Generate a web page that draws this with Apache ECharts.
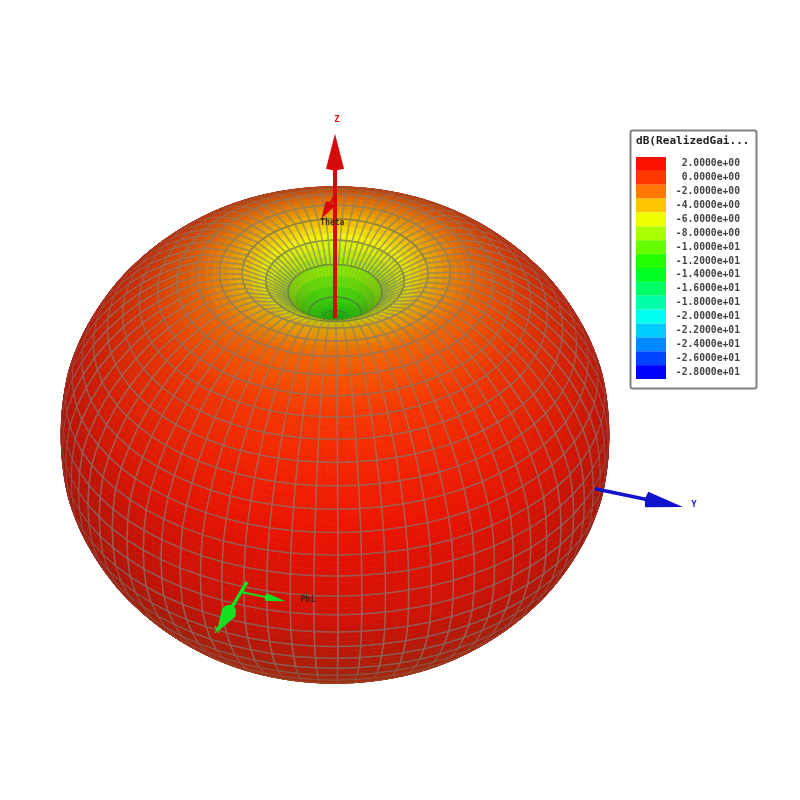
<!DOCTYPE html>
<html><head><meta charset="utf-8">
<style>html,body{margin:0;padding:0;background:#fff}#c{width:800px;height:800px;filter:blur(0.5px)}</style>
<script src="https://cdn.jsdelivr.net/npm/echarts@6/dist/echarts.min.js"></script>
</head><body><div id="c"></div>
<script>
// ---- data ----
const legendTitle = 'dB(RealizedGai...';
const tickValues = [2,0,-2,-4,-6,-8,-10,-12,-14,-16,-18,-20,-22,-24,-26,-28];
const tickLabels = ['2.0000e+00','0.0000e+00','-2.0000e+00','-4.0000e+00','-6.0000e+00','-8.0000e+00','-1.0000e+01','-1.2000e+01','-1.4000e+01','-1.6000e+01','-1.8000e+01','-2.0000e+01','-2.2000e+01','-2.4000e+01','-2.6000e+01','-2.8000e+01'];
const thetaStep = 5, phiStep = 5;
// realized gain (dB) at theta = 0,5,...,180 deg
const gainByTheta = [-12.2,-12.1,-11.2,-8,-5.8,-3.9,-2.7,-1.6,-1,-0.5,0,0.4,0.8,1.2,1.5,1.8,2,2,2,2,2,1.8,1.5,1.2,0.8,0.4,0,-0.5,-1,-1.6,-2.5,-3.5,-4.5,-6,-7.5,-9,-10];
const radialFloor = -28;
const colorValues = [2.5,0,-2,-5.5,-13,-20.5,-28];
const colorRGB = [[255,8,0],[255,55,0],[255,120,0],[255,255,0],[0,255,0],[0,255,255],[0,0,255]];
// axis triads: origin and vector in plot units
const arrowNames = ['Z','Y','X','Phi','Theta'];
const arrowOrigins = [[0,0,15.8],[0,30.2,0],[29,0,0],[31,0,0],[0,0,32.4]];
const arrowVectors = [[0,0,25],[0,10.2,0],[10,0,0],[0,5.2,0],[4.5,0,0]];
const viewAzimuth = 19.4, viewElevation = 36;

// ---- styling ----
const arrowStyle = {
  Z:{color:'#d60a0a',w:4,hl:35,hw:9,label:[2,-14],tc:'#e01010',font:'bold 9px "DejaVu Sans Mono"'},
  Y:{color:'#1212cc',w:3.5,hl:37,hw:8,label:[11,-2],tc:'#1a1acc',font:'bold 9px "DejaVu Sans Mono"'},
  X:{color:'#12e022',w:3.5,hl:24,hw:8,blob:7,label:[0,-1],tc:'#12e022',font:'bold 8px "DejaVu Sans Mono"'},
  Phi:{color:'#12e022',w:2,hl:20,hw:4,label:[22,-1],tc:'#3a1a10',font:'bold 8px "DejaVu Sans Mono"'},
  Theta:{color:'#d60a0a',w:2.5,hl:17,hw:5,label:[11,4],tc:'#3a2a10',font:'bold 8px "DejaVu Sans Mono"'}
};
const d2r = Math.PI/180;
const ca = Math.cos(viewAzimuth*d2r), sa = Math.sin(viewAzimuth*d2r), ce = Math.cos(viewElevation*d2r), se = Math.sin(viewElevation*d2r);
const V = [ca*ce, sa*ce, se];
const dot = (a,b)=>a[0]*b[0]+a[1]*b[1]+a[2]*b[2];
const view = p => [-p[0]*sa+p[1]*ca, p[2]*ce-(p[0]*ca+p[1]*sa)*se];
function gainAt(t){
  const f = Math.max(0,Math.min(gainByTheta.length-1.0001,t/thetaStep)), i = Math.floor(f), k = f-i;
  return gainByTheta[i]*(1-k)+gainByTheta[i+1]*k;
}
function point(t,p){
  const r = gainAt(t)-radialFloor, st = Math.sin(t*d2r);
  return [r*st*Math.cos(p*d2r), r*st*Math.sin(p*d2r), r*Math.cos(t*d2r)];
}
function normal(t,p){
  const tt = Math.max(0.5,Math.min(179.5,t));
  const a = point(tt+3,p), b = point(tt-3,p), c = point(tt,p+3), d = point(tt,p-3);
  const u = [a[0]-b[0],a[1]-b[1],a[2]-b[2]], v = [c[0]-d[0],c[1]-d[1],c[2]-d[2]];
  const n = [u[1]*v[2]-u[2]*v[1],u[2]*v[0]-u[0]*v[2],u[0]*v[1]-u[1]*v[0]];
  const l = Math.hypot(n[0],n[1],n[2])||1; return [n[0]/l,n[1]/l,n[2]/l];
}
function gainRGB(g){
  const n = colorValues.length;
  if(g>=colorValues[0]) return colorRGB[0];
  for(let i=1;i<n;i++) if(g>=colorValues[i]){
    const k=(g-colorValues[i])/(colorValues[i-1]-colorValues[i]);
    return colorRGB[i].map((c,m)=>c+(colorRGB[i-1][m]-c)*k);
  }
  return colorRGB[n-1];
}
const rgbStr = c => 'rgb('+c.map(Math.round).join(',')+')';
const L = (()=>{const l=[V[0]*0.9,V[1]*0.9+0.05,V[2]+0.35];const m=Math.hypot(...l);return l.map(x=>x/m);})();
function shade(t,p){
  const n = normal(t,p), d = Math.max(0,dot(n,L)), base = gainRGB(gainAt(t));
  const occlusion = t<20 ? 0.72+0.28*t/20 : 1;
  const k = (0.6+0.36*d)*occlusion;
  return rgbStr(base.map(c=>c*k+(1-k)*25));
}
// cells sorted far-to-near
const cells = [];
for(let i=0;i<(gainByTheta.length-1);i++) for(let j=0;j<360/phiStep;j++){
  const t=(i+.5)*thetaStep, p=(j+.5)*phiStep;
  cells.push([i,j,dot(point(t,p),V)]);
}
cells.sort((a,b)=>a[2]-b[2]);
const SUBT=3, SUBP=2;
function renderCell(params,api){
  const i=api.value(0), j=api.value(1), ch=[];
  const t0=i*thetaStep, p0=j*phiStep, px=q=>api.coord(view(q));
  const facing=dot(normal(t0+thetaStep/2,p0+phiStep/2),V);
  if(facing<-0.12) return null;
  for(let a=0;a<SUBT;a++) for(let b=0;b<SUBP;b++){
    const t1=t0+thetaStep*a/SUBT, t2=t0+thetaStep*(a+1)/SUBT, p1=p0+phiStep*b/SUBP, p2=p0+phiStep*(b+1)/SUBP;
    const col=shade((t1+t2)/2,(p1+p2)/2);
    ch.push({type:'polygon',shape:{points:[px(point(t1,p1)),px(point(t1,p2)),px(point(t2,p2)),px(point(t2,p1))]},style:{fill:col,stroke:col,lineWidth:0.7},silent:true});
  }
  const t1=t0+thetaStep, p1=p0+phiStep;
  const A=px(point(t0,p0)),B=px(point(t0,p1)),C=px(point(t1,p1)),D=px(point(t1,p0));
  const f=Math.min(1,Math.max(0,facing)*2.5);
  const w=0.7+0.8*f, alpha=(0.25+0.37*f).toFixed(2);
  const ring={stroke:i<5?'rgba(85,90,85,0.6)':'rgba(125,122,118,'+alpha+')',lineWidth:i<5?1.4:w,fill:null};
  const spoke={stroke:i<3?'rgba(110,130,90,0.10)':'rgba(135,128,120,'+alpha+')',lineWidth:w,fill:null};
  if(i>0) ch.push({type:'polyline',shape:{points:[A,B]},style:ring,silent:true});
  if(i<gainByTheta.length-2) ch.push({type:'polyline',shape:{points:[D,C]},style:ring,silent:true});
  ch.push({type:'polyline',shape:{points:[A,D]},style:spoke,silent:true});
  ch.push({type:'polyline',shape:{points:[B,C]},style:spoke,silent:true});
  return {type:'group',children:ch};
}
function renderArrow(params,api){
  const k=api.value(0), name=arrowNames[k], s=arrowStyle[name], o=arrowOrigins[k], v=arrowVectors[k];
  const A=api.coord(view(o)), B=api.coord(view([o[0]+v[0],o[1]+v[1],o[2]+v[2]]));
  const dx=B[0]-A[0], dy=B[1]-A[1], l=Math.hypot(dx,dy), ux=dx/l, uy=dy/l, nx=-uy, ny=ux;
  const bx=B[0]-ux*s.hl, by=B[1]-uy*s.hl;
  const ch=[
    {type:'line',shape:{x1:A[0],y1:A[1],x2:bx,y2:by},style:{stroke:s.color,lineWidth:s.w},silent:true},
    {type:'polygon',shape:{points:[B,[bx+nx*s.hw,by+ny*s.hw],[bx-ux*2,by-uy*2],[bx-nx*s.hw,by-ny*s.hw]]},style:{fill:s.color},silent:true},
    {type:'text',x:B[0]+s.label[0],y:B[1]+s.label[1],style:{text:name,fill:s.tc,font:s.font,align:'center',verticalAlign:'middle'},silent:true}
  ];
  if(s.blob) ch.push({type:'circle',shape:{cx:bx,cy:by,r:s.blob},style:{fill:s.color},silent:true});
  return {type:'group',children:ch};
}
const chart = echarts.init(document.getElementById('c'),null,{renderer:'canvas',width:800,height:800});
const pxPerUnit=9.13, cx=335, cy=435;
chart.setOption({
  animation:false, backgroundColor:'#fff',
  graphic:[
    {type:'rect',z:0,shape:{x:630.5,y:130.5,width:126,height:258,r:2},style:{fill:'#fff',stroke:'#808080',lineWidth:2}},
    {type:'text',z:5,x:636,y:141,style:{text:legendTitle,fill:'#222',font:'bold 11.1px "DejaVu Sans Mono"',verticalAlign:'middle'}}
  ],
  grid:[
    {left:0,top:0,width:800,height:800},
    {left:636,top:157,width:30,height:222}
  ],
  xAxis:[
    {type:'value',gridIndex:0,min:-cx/pxPerUnit,max:(800-cx)/pxPerUnit,show:false},
    {type:'value',gridIndex:1,min:0,max:1,show:false}
  ],
  yAxis:[
    {type:'value',gridIndex:0,min:-(800-cy)/pxPerUnit,max:cy/pxPerUnit,show:false},
    {type:'category',gridIndex:1,inverse:true,position:'right',data:tickLabels,
     axisLine:{show:false},axisTick:{show:false},
     axisLabel:{interval:0,align:'right',margin:74,fontFamily:'DejaVu Sans Mono',fontWeight:'bold',fontSize:9.7,color:'#444'}}
  ],
  series:[
    {type:'custom',xAxisIndex:0,yAxisIndex:0,data:cells,renderItem:renderCell,progressive:0,silent:true,clip:false,z:2},
    {type:'custom',xAxisIndex:0,yAxisIndex:0,data:arrowNames.map((n,k)=>[k]),renderItem:renderArrow,silent:true,clip:false,z:3},
    {type:'bar',xAxisIndex:1,yAxisIndex:1,barCategoryGap:'0%',silent:true,z:4,
     data:tickValues.map(v=>({value:1,itemStyle:{color:rgbStr(gainRGB(v))}}))}
  ]
});
</script></body></html>
